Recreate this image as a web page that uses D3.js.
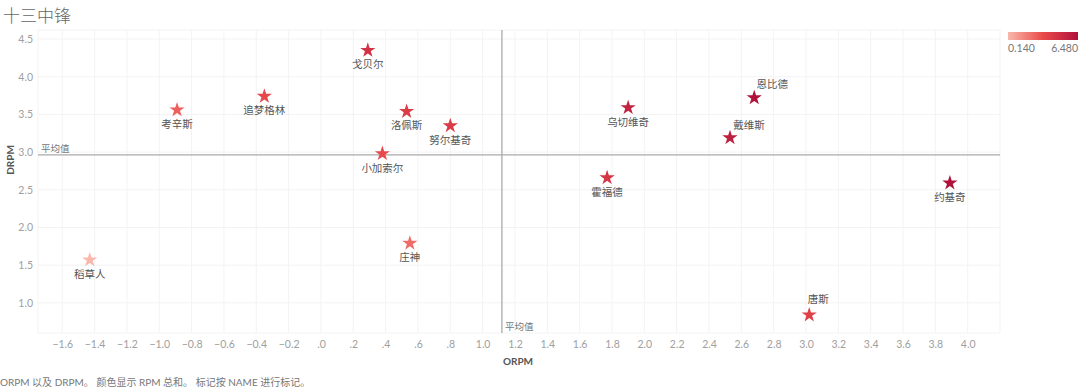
<!DOCTYPE html>
<html><head><meta charset="utf-8">
<script src="https://cdn.jsdelivr.net/npm/d3@7"></script>
<style>
html,body{margin:0;padding:0;background:#fff;}
svg{display:block;}
</style></head>
<body><svg id="c" width="1080" height="389"></svg>
<script>
const names = ["戈贝尔","考辛斯","追梦格林","洛佩斯","努尔基奇","小加索尔","乌切维奇","恩比德","戴维斯","霍福德","约基奇","稻草人","庄神","唐斯"];
const orpm  = [0.29,-0.89,-0.35,0.53,0.80,0.38,1.90,2.68,2.53,1.77,3.89,-1.43,0.55,3.02];
const drpm  = [4.35,3.56,3.74,3.54,3.35,2.98,3.59,3.72,3.19,2.66,2.59,1.57,1.79,0.84];
const xTicks = [-1.6,-1.4,-1.2,-1.0,-0.8,-0.6,-0.4,-0.2,0,0.2,0.4,0.6,0.8,1.0,1.2,1.4,1.6,1.8,2.0,2.2,2.4,2.6,2.8,3.0,3.2,3.4,3.6,3.8,4.0];
const yTicks = [1.0,1.5,2.0,2.5,3.0,3.5,4.0,4.5];
const legendLabels = ["0.140","6.480"];

const data = names.map((n,i)=>({name:n, x:orpm[i], y:drpm[i], rpm:orpm[i]+drpm[i]}));
const labelOffset = {"恩比德":[18,-10],"戴维斯":[19,-9],"唐斯":[9,-12]};

const svg = d3.select("#c");
const L=38,R=1000,T=30,B=333;
const x = d3.scaleLinear().domain([-1.75,4.2]).range([L,R]);
const y = d3.scaleLinear().domain([0.6,4.62]).range([B,T]);
const fmt = v => { let s = d3.format(".1f")(v); return s.replace(/^(-?)0\./,"$1."); };
const color = d3.scaleLinear().domain([0.14,3.3,6.48]).range(["#f9b8ab","#ea4a4a","#b0113b"]);

// title
svg.append("text").attr("x",3).attr("y",22).text("十三中锋")
  .attr("font-family","'Noto Sans CJK SC', sans-serif").attr("font-weight",300).attr("font-size",17).attr("fill","#666");

// grid
const g = svg.append("g");
g.selectAll(".vg").data(xTicks).join("line").attr("x1",d=>x(d)).attr("x2",d=>x(d)).attr("y1",T).attr("y2",B)
  .attr("stroke","#f3f3f3").attr("stroke-width",1);
g.selectAll(".hg").data(yTicks).join("line").attr("y1",d=>y(d)).attr("y2",d=>y(d)).attr("x1",L).attr("x2",R)
  .attr("stroke","#f3f3f3").attr("stroke-width",1);
g.append("rect").attr("x",L).attr("y",T).attr("width",R-L).attr("height",B-T).attr("fill","none").attr("stroke","#f3f3f3");

// axes
const xAxis = d3.axisBottom(x).tickValues(xTicks).tickFormat(fmt).tickSize(0).tickPadding(8);
const ax = svg.append("g").attr("transform",`translate(0,${B})`).call(xAxis);
ax.select(".domain").remove();
ax.selectAll("text").attr("fill","#a0a0a0").attr("font-size",10.5).attr("font-family","Lato, sans-serif");
const yAxis = d3.axisLeft(y).tickValues(yTicks).tickFormat(d3.format(".1f")).tickSize(0).tickPadding(4);
const ay = svg.append("g").attr("transform",`translate(${L-1},0)`).call(yAxis);
ay.select(".domain").remove();
ay.selectAll("text").attr("fill","#a0a0a0").attr("font-size",10.5).attr("font-family","Lato, sans-serif");

svg.append("text").attr("x",518).attr("y",365).attr("text-anchor","middle").text("ORPM")
  .attr("font-family","Lato, sans-serif").attr("font-weight","bold").attr("font-size",10).attr("fill","#555");
svg.append("text").attr("transform","translate(14,160) rotate(-90)").attr("text-anchor","middle").text("DRPM")
  .attr("font-family","Lato, sans-serif").attr("font-weight","bold").attr("font-size",10).attr("fill","#555");

// averages
const mx = d3.mean(data,d=>d.x), my = d3.mean(data,d=>d.y);
svg.append("line").attr("x1",L).attr("x2",R).attr("y1",y(my)).attr("y2",y(my)).attr("stroke","#aaa").attr("stroke-width",1.3);
svg.append("line").attr("x1",x(mx)).attr("x2",x(mx)).attr("y1",T).attr("y2",B).attr("stroke","#aaa").attr("stroke-width",1.3);
svg.append("text").attr("x",L+3).attr("y",y(my)-3).text("平均值")
  .attr("font-family","'Noto Sans CJK SC', sans-serif").attr("font-size",9.5).attr("fill","#777");
svg.append("text").attr("x",x(mx)+3).attr("y",B-3).text("平均值")
  .attr("font-family","'Noto Sans CJK SC', sans-serif").attr("font-size",9.5).attr("fill","#777");

// stars
const star = d3.symbol().type(d3.symbolStar).size(72);
svg.selectAll(".pt").data(data).join("path").attr("d",star)
  .attr("transform",d=>`translate(${x(d.x)},${y(d.y)})`).attr("fill",d=>color(d.rpm));
svg.selectAll(".lb").data(data).join("text")
  .attr("x",d=>x(d.x)+(labelOffset[d.name]?labelOffset[d.name][0]:0))
  .attr("y",d=>y(d.y)+(labelOffset[d.name]?labelOffset[d.name][1]:18))
  .attr("text-anchor","middle").text(d=>d.name)
  .attr("font-family","'Noto Sans CJK SC', sans-serif").attr("font-size",10.5).attr("fill","#555");

// legend
const defs = svg.append("defs");
const grad = defs.append("linearGradient").attr("id","lg");
[0,0.5,1].forEach((t,i)=>grad.append("stop").attr("offset",t).attr("stop-color",color.range()[i]));
svg.append("rect").attr("x",1008).attr("y",32).attr("width",70).attr("height",8).attr("fill","url(#lg)");
svg.append("text").attr("x",1008).attr("y",52).text(legendLabels[0]).attr("font-family","Lato, sans-serif").attr("font-size",10.5).attr("fill","#777");
svg.append("text").attr("x",1078).attr("y",52).attr("text-anchor","end").text(legendLabels[1]).attr("font-family","Lato, sans-serif").attr("font-size",10.5).attr("fill","#777");

// footer
svg.append("text").attr("x",0).attr("y",386).text("ORPM 以及 DRPM。 颜色显示 RPM 总和。 标记按 NAME 进行标记。")
  .attr("font-family","Lato, 'Noto Sans CJK SC', sans-serif").attr("font-size",10).attr("fill","#777");
</script></body></html>
